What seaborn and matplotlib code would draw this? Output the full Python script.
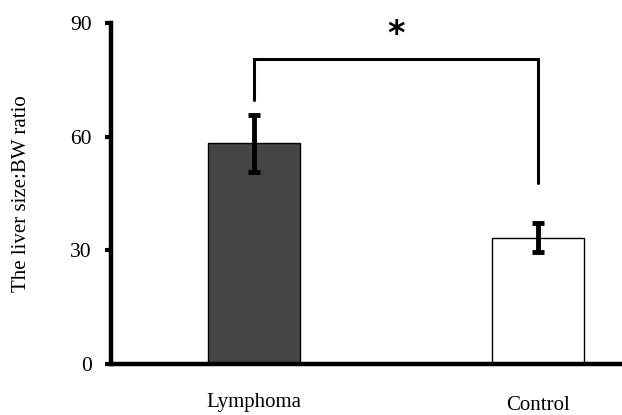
import matplotlib
matplotlib.use("Agg")
import matplotlib.pyplot as plt
import seaborn as sns
import pandas as pd

groups = ["Lymphoma", "Control"]
ratio_mean = [58.2, 33.3]
ratio_err = [7.5, 3.8]
bar_colors = ["#454545", "#ffffff"]

sns.set_style("white")
plt.rcParams["font.family"] = ["Liberation Serif", "DejaVu Serif"]
plt.rcParams["text.color"] = "black"
plt.rcParams["axes.labelcolor"] = "black"
plt.rcParams["ytick.color"] = "black"
plt.rcParams["xtick.color"] = "black"

fig = plt.figure(figsize=(6.22, 4.15), dpi=100)
ax = fig.add_axes([0.1785, 0.123, 0.83, 0.822])

df = pd.DataFrame({"group": groups, "ratio": ratio_mean})
sns.barplot(data=df, x="group", y="ratio", hue="group", palette=bar_colors,
            width=0.324, edgecolor="black", linewidth=1.0, legend=False, ax=ax)
ax.errorbar(x=range(len(groups)), y=ratio_mean, yerr=ratio_err, fmt="none",
            ecolor="black", elinewidth=3.5, capsize=4, capthick=3.5)

# significance bracket
ax.plot([0, 0, 1, 1], [69.6, 80.5, 80.5, 47.8], color="black", lw=2.2,
        solid_joinstyle="miter")
ax.text(0.5, 87.0, "*", ha="center", va="center", fontsize=24,
        fontweight="bold", family=["DejaVu Sans"])

ax.set_xlim(-0.504, 1.313)
ax.set_ylim(0, 90)
ax.set_yticks([0, 30, 60, 90])
ax.set_ylabel("The liver size:BW ratio", fontsize=15, labelpad=28)
ax.set_xlabel("")
sns.despine(ax=ax)
for side in ["left", "bottom"]:
    ax.spines[side].set_linewidth(3.2)
    ax.spines[side].set_color("black")
ax.tick_params(axis="y", direction="out", length=4, width=3, labelsize=15.5,
               left=True, pad=10, color="black")
ax.tick_params(axis="x", length=0, labelsize=15, pad=21)
ax.get_xticklabels()[1].set_y(-0.007)

fig.savefig("out.png", dpi=100)
